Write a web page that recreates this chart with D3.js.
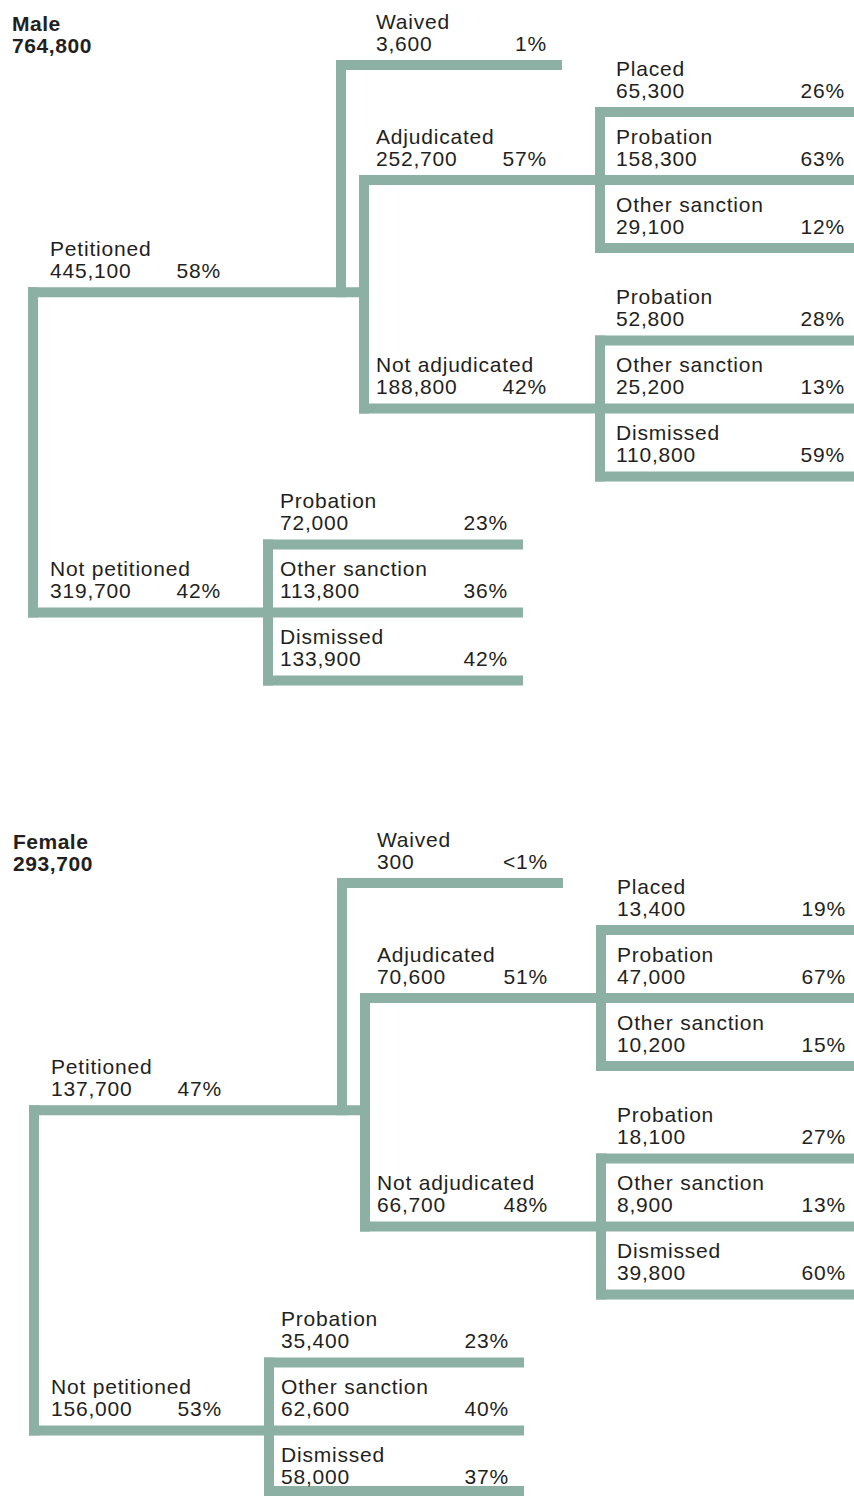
<!DOCTYPE html>
<html>
<head>
<meta charset="utf-8">
<script src="https://cdn.jsdelivr.net/npm/d3@7"></script>
<style>
  body { margin: 0; background: #fff; }
  text { font-family: 'Liberation Sans', Arial, Helvetica, sans-serif; fill: #231f20; }
</style>
</head>
<body>
<script>
(function (d3) {
  'use strict'
  const w = 854
  const h = 1497

  // data
  const genders = ['Male', 'Female']
  const genderTotals = [764800, 293700]

  const petitionNames = ['Petitioned', 'Not petitioned']
  const petitionValues = [[445100, 319700], [137700, 156000]]
  const petitionPcts = [['58%', '42%'], ['47%', '53%']]

  const petitionedNames = ['Waived', 'Adjudicated', 'Not adjudicated']
  const petitionedValues = [[3600, 252700, 188800], [300, 70600, 66700]]
  const petitionedPcts = [['1%', '57%', '42%'], ['<1%', '51%', '48%']]

  const adjudicatedNames = ['Placed', 'Probation', 'Other sanction']
  const adjudicatedValues = [[65300, 158300, 29100], [13400, 47000, 10200]]
  const adjudicatedPcts = [['26%', '63%', '12%'], ['19%', '67%', '15%']]

  const notAdjudicatedNames = ['Probation', 'Other sanction', 'Dismissed']
  const notAdjudicatedValues = [[52800, 25200, 110800], [18100, 8900, 39800]]
  const notAdjudicatedPcts = [['28%', '13%', '59%'], ['27%', '13%', '60%']]

  const notPetitionedNames = ['Probation', 'Other sanction', 'Dismissed']
  const notPetitionedValues = [[72000, 113800, 133900], [35400, 62600, 58000]]
  const notPetitionedPcts = [['23%', '36%', '42%'], ['23%', '40%', '37%']]

  // layout
  const barColor = '#8cb0a3'
  const lw = 10
  const fmt = d3.format(',')
  const sectionDy = [0, 818]
  const sectionDx = [0, 1]
  const groupGap = 0.36

  const svg = d3.select('body').append('svg')
    .attr('width', w)
    .attr('height', h)

  const lines = svg.append('g')
  const labels = svg.append('g')

  genders.forEach(function (gender, gi) {
    const dx = sectionDx[gi]
    const y = d3.scaleLinear().domain([0, 1]).range([112 + sectionDy[gi], 180 + sectionDy[gi]])
    const x = d3.scaleLinear().domain([0, 1]).range([dx, 1 + dx])
    // keep the last bar inside the picture
    const by = function (v) { return Math.min(v, h - 6) }

    // slots for leaf rows
    const adjSlots = adjudicatedNames.map((d, i) => i)
    const naSlots = notAdjudicatedNames.map((d, i) => adjSlots.length + groupGap + i)
    const npSlots = notPetitionedNames.map((d, i) => adjSlots.length + naSlots.length + groupGap + i)
    const adjY = y(d3.mean(adjSlots))
    const naY = y(d3.mean(naSlots))
    const npY = y(d3.mean(npSlots))
    const waivedY = y(-0.69)
    const petY = (adjY + naY) / 2 - 2

    const cols = { l1: x(33), wv: x(341), l2: x(364), l3: x(600), np: x(268) }

    const segs = []
    const labs = []
    const half = lw / 2

    // root vertical
    segs.push([cols.l1, petY, cols.l1, npY])
    // petitioned / not petitioned bars
    segs.push([cols.l1 - half, petY, cols.l2 + half, petY])
    segs.push([cols.l1 - half, npY, cols.np + half, npY])
    labs.push({ x: x(50), y: petY, name: petitionNames[0], value: petitionValues[gi][0], pct: petitionPcts[gi][0], px: x(221) })
    labs.push({ x: x(50), y: npY, name: petitionNames[1], value: petitionValues[gi][1], pct: petitionPcts[gi][1], px: x(221) })

    // waived
    segs.push([cols.wv, waivedY, cols.wv, petY])
    segs.push([cols.wv - half, waivedY, x(562), waivedY])
    labs.push({ x: x(376), y: waivedY, name: petitionedNames[0], value: petitionedValues[gi][0], pct: petitionedPcts[gi][0], px: x(547) })

    // adjudicated / not adjudicated
    segs.push([cols.l2, adjY, cols.l2, naY])
    segs.push([cols.l2 - half, adjY, cols.l3 + half, adjY])
    segs.push([cols.l2 - half, naY, cols.l3 + half, naY])
    labs.push({ x: x(376), y: adjY, name: petitionedNames[1], value: petitionedValues[gi][1], pct: petitionedPcts[gi][1], px: x(547) })
    labs.push({ x: x(376), y: naY, name: petitionedNames[2], value: petitionedValues[gi][2], pct: petitionedPcts[gi][2], px: x(547) })

    // leaf groups
    function leaves (slots, names, values, pcts, vx, endX, textX, pctX) {
      const ys = slots.map(y)
      segs.push([vx, ys[0], vx, by(ys[ys.length - 1])])
      ys.forEach(function (yy, i) {
        segs.push([vx - half, by(yy), endX, by(yy)])
        labs.push({ x: textX, y: yy, name: names[i], value: values[gi][i], pct: pcts[gi][i], px: pctX })
      })
    }
    leaves(adjSlots, adjudicatedNames, adjudicatedValues, adjudicatedPcts, cols.l3, w, x(616), x(845))
    leaves(naSlots, notAdjudicatedNames, notAdjudicatedValues, notAdjudicatedPcts, cols.l3, w, x(616), x(845))
    leaves(npSlots, notPetitionedNames, notPetitionedValues, notPetitionedPcts, cols.np, x(523), x(280), x(508))

    lines.selectAll(null)
      .data(segs)
      .enter().append('line')
      .attr('x1', d => d[0])
      .attr('y1', d => d[1])
      .attr('x2', d => d[2])
      .attr('y2', d => d[3])
      .attr('stroke', barColor)
      .attr('stroke-width', lw)
      .attr('stroke-linecap', d => d[0] === d[2] ? 'square' : 'butt')

    // root label
    const root = labels.append('g')
    root.append('text')
      .attr('x', x(12))
      .attr('y', 31 + sectionDy[gi])
      .attr('font-size', 21)
      .attr('font-weight', 'bold')
      .attr('letter-spacing', 0.5)
      .text(gender)
    root.append('text')
      .attr('x', x(12))
      .attr('y', 53 + sectionDy[gi])
      .attr('font-size', 21)
      .attr('font-weight', 'bold')
      .attr('letter-spacing', 0.6)
      .text(fmt(genderTotals[gi]))

    const lab = labels.append('g')
      .selectAll('g')
      .data(labs)
      .enter().append('g')

    lab.append('text')
      .attr('x', d => d.x)
      .attr('y', d => d.y - 36)
      .attr('font-size', 21)
      .attr('letter-spacing', 0.8)
      .text(d => d.name)

    lab.append('text')
      .attr('x', d => d.x)
      .attr('y', d => d.y - 14)
      .attr('font-size', 21)
      .attr('letter-spacing', 0.8)
      .text(d => fmt(d.value))

    lab.append('text')
      .attr('x', d => d.px)
      .attr('y', d => d.y - 14)
      .attr('font-size', 21)
      .attr('letter-spacing', 0.8)
      .attr('text-anchor', 'end')
      .text(d => d.pct)
  })

}(d3))
</script>
</body>
</html>
